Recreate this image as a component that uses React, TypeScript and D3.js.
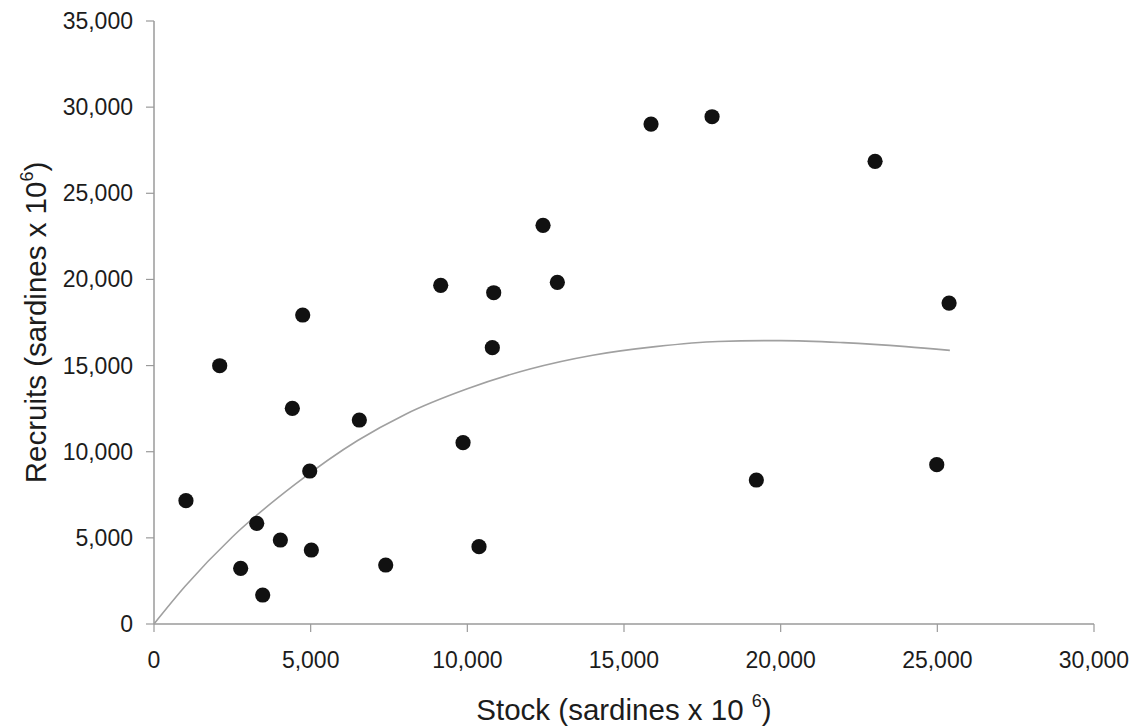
import React from "react";
import * as d3 from "d3";

const stock = [1020, 2097, 2766, 3278, 3469, 4033, 4415, 4746, 4970, 5022, 6553, 7395, 9150, 9863, 10373, 10798, 10842, 12416, 12873, 15863, 17810, 19224, 23013, 24982, 25375];
const recruits = [7160, 14991, 3230, 5843, 1683, 4875, 12520, 17934, 8880, 4295, 11840, 3424, 19657, 10523, 4488, 16036, 19228, 23140, 19832, 29019, 29443, 8357, 26854, 9246, 18630];

const fitStock = [0, 1000, 2500, 4500, 6500, 8000, 10000, 12000, 14000, 16000, 18000, 20000, 22000, 24000, 25400];
const fitRecruits = [0, 2200, 5050, 8100, 10650, 12150, 13650, 14800, 15600, 16100, 16400, 16450, 16330, 16100, 15880];

const xTicks = [0, 5000, 10000, 15000, 20000, 25000, 30000];
const yTicks = [0, 5000, 10000, 15000, 20000, 25000, 30000, 35000];

const W = 1138;
const H = 728;
const left = 154;
const right = 1094;
const top = 21;
const bottom = 624;

const FONT = "'Liberation Sans', Arial, sans-serif";
const AXIS = "#9a9a9a";
const TEXT = "#1c1c1c";

export default function App() {
  const x = d3.scaleLinear().domain([0, 30000]).range([left, right]);
  const y = d3.scaleLinear().domain([0, 35000]).range([bottom, top]);
  const fmt = d3.format(",");

  const fit = fitStock.map((s, i) => [s, fitRecruits[i]] as [number, number]);
  const line = d3
    .line<[number, number]>()
    .x((d) => x(d[0]))
    .y((d) => y(d[1]))
    .curve(d3.curveMonotoneX);

  return (
    <svg
      width={W}
      height={H}
      style={{ position: "absolute", left: 0, top: 0, background: "#fff" }}
      fontFamily={FONT}
    >
      <rect x={0} y={0} width={W} height={H} fill="#fff" />
      {/* axes */}
      <line x1={left} x2={left} y1={y(35000)} y2={bottom} stroke={AXIS} strokeWidth={1.5} />
      <line x1={left} x2={x(30000)} y1={bottom} y2={bottom} stroke={AXIS} strokeWidth={1.5} />
      {yTicks.map((t) => (
        <g key={"y" + t}>
          <line x1={left - 8} x2={left} y1={y(t)} y2={y(t)} stroke={AXIS} strokeWidth={1.2} />
          <text x={left - 21} y={y(t)} dy="0.35em" textAnchor="end" fontSize={23} fill={TEXT}>
            {fmt(t)}
          </text>
        </g>
      ))}
      {xTicks.map((t) => (
        <g key={"x" + t}>
          <line x1={x(t)} x2={x(t)} y1={bottom} y2={bottom + 8} stroke={AXIS} strokeWidth={1.2} />
          <text x={x(t)} y={bottom + 44} textAnchor="middle" fontSize={23} fill={TEXT}>
            {fmt(t)}
          </text>
        </g>
      ))}
      {/* fitted curve */}
      <path d={line(fit) || ""} fill="none" stroke="#a0a0a0" strokeWidth={1.6} />
      {/* points */}
      {stock.map((s, i) => (
        <circle key={i} cx={x(s)} cy={y(recruits[i])} r={7.6} fill="#111" />
      ))}
      {/* axis titles */}
      <text x={(left + right) / 2} y={720} textAnchor="middle" fontSize={29.5} fill={TEXT}>
        Stock (sardines x 10{" "}
        <tspan fontSize={18} dy={-13}>6</tspan>
        <tspan dy={13}>)</tspan>
      </text>
      <text
        transform={`translate(46, ${(top + bottom) / 2}) rotate(-90)`}
        textAnchor="middle"
        fontSize={29.5}
        fill={TEXT}
      >
        Recruits (sardines x 10
        <tspan fontSize={18} dy={-13}>6</tspan>
        <tspan dy={13}>)</tspan>
      </text>
    </svg>
  );
}
